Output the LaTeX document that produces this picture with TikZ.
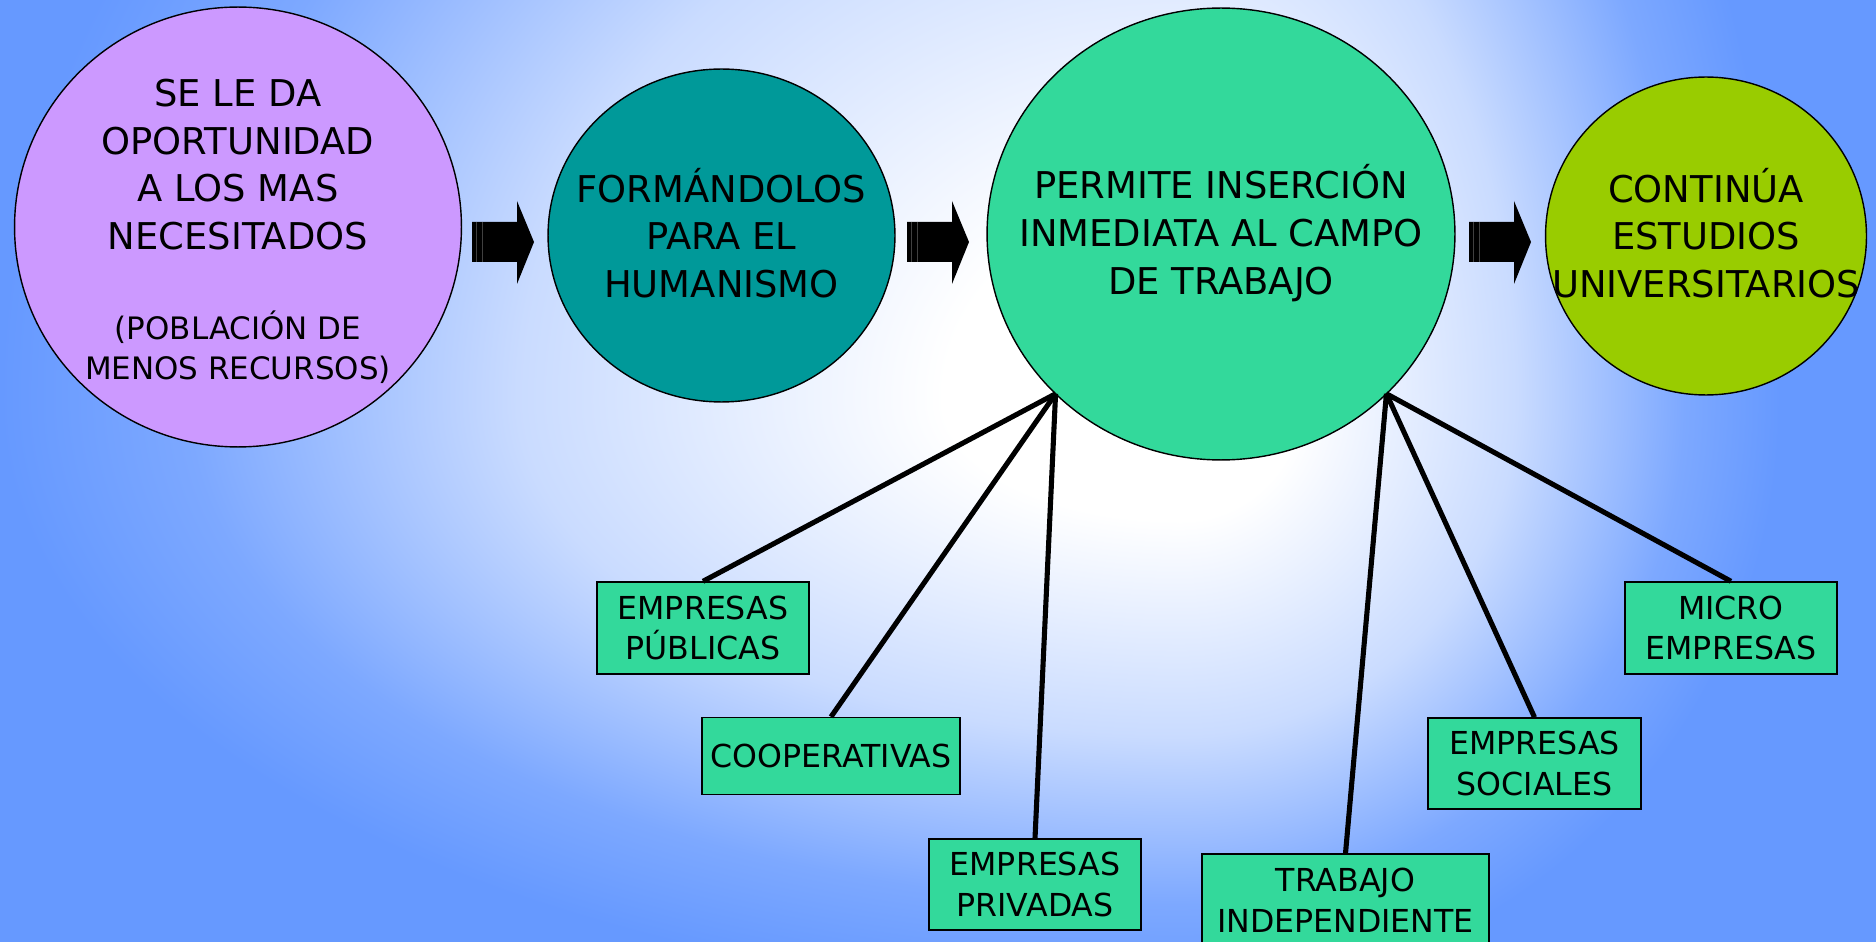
\documentclass[tikz,border=0pt]{standalone}
\usepackage{fontspec}
\setmainfont{DejaVu Sans}
\usetikzlibrary{shapes.geometric}

\definecolor{bgblue}{RGB}{102,153,255}
\definecolor{lilac}{RGB}{204,153,255}
\definecolor{tealc}{RGB}{0,153,153}
\definecolor{mint}{RGB}{51,217,155}
\definecolor{lime}{RGB}{153,204,0}
\colorlet{glowA}{bgblue!35!white}
\colorlet{glowB}{bgblue!85!white}

\pgfdeclareradialshading{slideglow}{\pgfpoint{0bp}{0bp}}{color(0bp)=(white); color(5bp)=(white); color(14bp)=(glowA); color(21bp)=(glowB); color(25bp)=(bgblue); color(50bp)=(bgblue)}

\tikzset{
  bubble/.style={ellipse, draw=black, line width=0.8pt, inner sep=0pt, outer sep=0pt},
  bigtxt/.style={align=center, font=\fontsize{21}{27.2}\selectfont},
  smalltxt/.style={align=center, font=\fontsize{17.6}{22.7}\selectfont},
  sector/.style={draw=black, line width=0.8pt, fill=mint, minimum width=4.24cm,
    minimum height=1.84cm, inner sep=0pt, align=center, font=\fontsize{18}{23.2}\selectfont},
  spoke/.style={line width=2.9pt}
}

\begin{document}
\begin{tikzpicture}[x=0.02cm,y=-0.02cm]

    \useasboundingbox (0,0) rectangle (1876,942);
    \clip (0,0) rectangle (1876,942);

    % background, one quarter at a time
    \fill[bgblue] (0,0) rectangle (1876,942);
    \foreach \qx/\qy/\rx/\ry in {0/0/1180/1000, 1876/0/600/1000, 0/942/1180/600, 1876/942/600/600}
    {
        \begin{scope}
            \clip (\qx,\qy) rectangle ({1180+sign(1180-\qx)*2},{400+sign(400-\qy)*2});
            \shade[shading=slideglow] ({1180-\rx},{400-\ry}) rectangle ({1180+\rx},{400+\ry});
        \end{scope}
    }

    \node[bubble, fill=lilac, minimum width=8.94cm, minimum height=8.8cm] (need) at (238,227) {};
    \node[bubble, fill=tealc, minimum width=6.94cm, minimum height=6.66cm] (form) at (721.5,235.5) {};
    \node[bubble, fill=mint, minimum width=9.36cm, minimum height=9.04cm] (work) at (1221,234) {};
    \node[bubble, fill=lime, minimum width=6.42cm, minimum height=6.36cm] (univ) at (1706,236) {};

    \node[bigtxt] (needtxt) at (238,164.5) {SE LE DA\\OPORTUNIDAD\\A LOS MAS\\NECESITADOS};
    \node[smalltxt] (needsub) at (238,347) {(POBLACIÓN DE\\MENOS RECURSOS)};
    \node[bigtxt] (formtxt) at (721.5,233) {FORMÁNDOLOS\\PARA EL\\HUMANISMO};
    \node[bigtxt] (worktxt) at (1221,233) {PERMITE INSERCIÓN\\INMEDIATA AL CAMPO\\DE TRABAJO};
    \node[bigtxt] (univtxt) at (1706,233) {CONTINÚA\\ESTUDIOS\\UNIVERSITARIOS};

    % block arrows
    \foreach \ax in {472,907,1469}
    {
        \fill (\ax,222) -- ++(45,0) -- ++(0,-21) -- ++(17,41) -- ++(-17,42)
            -- ++(0,-22) -- ++(-45,0) -- cycle;
        \draw[gray!50!black, line width=0.4pt] (\ax+4,222) -- (\ax+4,262)
            (\ax+10,222) -- (\ax+10,262);
    }

    \node[sector] (pub) at (703,628) {EMPRESAS\\PÚBLICAS};
    \node[sector, minimum width=5.16cm, minimum height=1.54cm] (coop) at (831,756) {COOPERATIVAS};
    \node[sector, minimum height=1.82cm] (priv) at (1035,884.5) {EMPRESAS\\PRIVADAS};
    \node[sector, minimum width=5.74cm] (indep) at (1345.5,900) {TRABAJO\\INDEPENDIENTE};
    \node[sector, minimum width=4.26cm, minimum height=1.82cm] (soc) at (1534.5,763.5) {EMPRESAS\\SOCIALES};
    \node[sector] (micro) at (1731,628) {MICRO\\EMPRESAS};

    %spokes
    \foreach \b in {pub,coop,priv}
        \draw[spoke] (work.south west) -- (\b.north);
    \foreach \b in {indep,soc,micro}
        \draw[spoke] (work.south east) -- (\b.north);

\end{tikzpicture}
\end{document}
